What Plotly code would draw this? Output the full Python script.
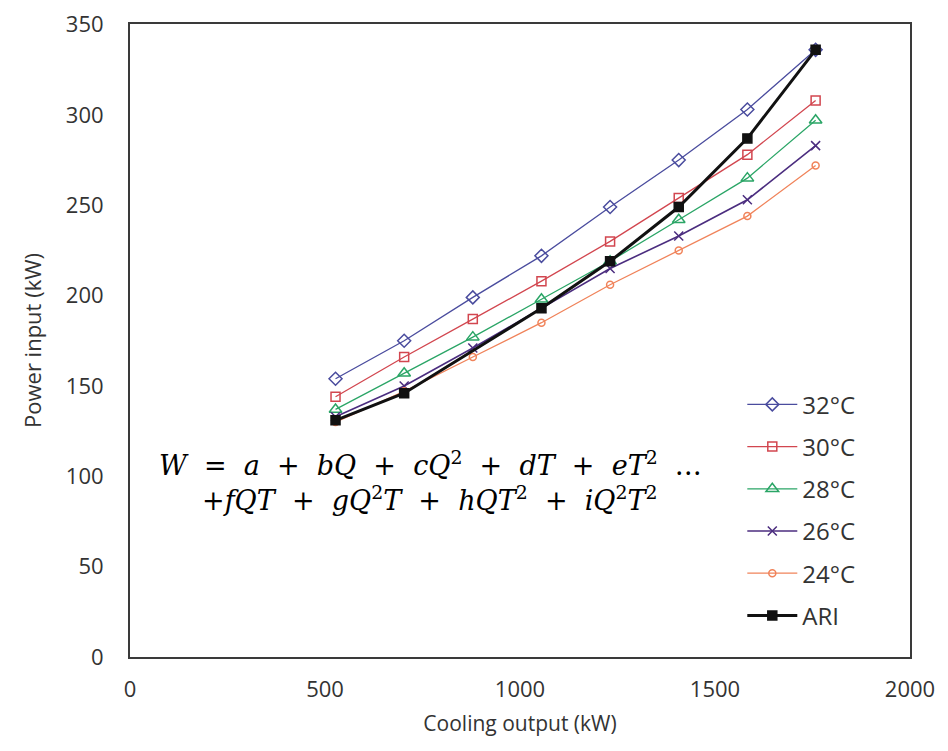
import plotly.graph_objects as go

# Cooling output (kW)
cooling_kw = [527, 703, 879, 1055, 1231, 1407, 1583, 1758]

# Power input (kW) per condenser water temperature
p32 = [154, 175, 199, 222, 249, 275, 303, 336]
p30 = [144, 166, 187, 208, 230, 254, 278, 308]
p28 = [137, 157, 177, 198, 219, 242, 265, 297]
p26 = [133, 150, 171, 193, 215, 233, 253, 283]
p24 = [130, 147, 166, 185, 206, 225, 244, 272]
pari = [131, 146, None, 193, 219, 249, 287, 336]

series_names = ["32°C", "30°C", "28°C", "26°C", "24°C", "ARI"]
x_ticks = [0, 500, 1000, 1500, 2000]
y_ticks = [0, 50, 100, 150, 200, 250, 300, 350]

series = [p32, p30, p28, p26, p24, pari]
colors = ["#4a4c9e", "#d2464f", "#2aa566", "#4b2d7f", "#f0835a", "#111111"]
symbols = ["diamond-open", "square-open", "triangle-up-open", "x-thin-open", "circle-open", "square"]
msizes = [10, 9, 11, 9, 7, 9]
lwidths = [1.3, 1.3, 1.3, 1.6, 1.3, 3]

fig = go.Figure()
for i, (name, ys) in enumerate(zip(series_names, series)):
    fig.add_trace(go.Scatter(
        x=cooling_kw, y=ys, name=name, mode="lines+markers",
        connectgaps=True, legendgroup=name,
        line=dict(color=colors[i], width=lwidths[i]),
        marker=dict(symbol=symbols[i], size=msizes[i], color=colors[i],
                    line=dict(color=colors[i], width=1.5)),
    ))

font_family = "Open Sans, Noto Sans, sans-serif"
fig.update_layout(
    width=948, height=751,
    paper_bgcolor="white", plot_bgcolor="white",
    margin=dict(l=122, r=46, t=16, b=102),
    font=dict(family=font_family, color="#333333"),
    legend=dict(x=0.785, y=0.434, xanchor="left", yanchor="top",
                font=dict(size=24, color="#333333", family=font_family),
                bgcolor="rgba(255,255,255,0)", tracegroupgap=8,
                itemwidth=50),
    showlegend=True,
)
fig.update_xaxes(range=[0, 2000], tickvals=x_ticks, ticks="", automargin=False,
                 showgrid=False, zeroline=False, showline=True, mirror=True,
                 linecolor="#3a3a3a", linewidth=2, ticklabelstandoff=12,
                 tickfont=dict(size=22),
                 title=dict(text="Cooling output (kW)", font=dict(size=21), standoff=14))
fig.update_yaxes(range=[0, 350.3], tickvals=y_ticks, ticks="", automargin=False,
                 showgrid=False, zeroline=False, showline=True, mirror=True,
                 linecolor="#3a3a3a", linewidth=2, ticklabelstandoff=20,
                 ticklabeloverflow="allow",
                 tickfont=dict(size=22),
                 title=dict(text="Power input (kW)", font=dict(size=22), standoff=18))

eq_font = dict(family="DejaVu Serif, Liberation Serif, serif", size=27, color="#000000")
sp = "&nbsp; "
line1 = ("<i>W</i>" + sp + "=" + sp + "<i>a</i>" + sp + "+" + sp + "<i>bQ</i>" + sp + "+" + sp +
         "<i>cQ</i><sup>2</sup>" + sp + "+" + sp + "<i>dT</i>" + sp + "+" + sp +
         "<i>eT</i><sup>2</sup>" + sp + "…")
line2 = ("+<i>fQT</i>" + sp + "+" + sp + "<i>gQ</i><sup>2</sup><i>T</i>" + sp + "+" + sp +
         "<i>hQT</i><sup>2</sup>" + sp + "+" + sp + "<i>iQ</i><sup>2</sup><i>T</i><sup>2</sup>")
fig.add_annotation(xref="paper", yref="paper", x=0.385, y=0.306, showarrow=False,
                   text=line1, font=eq_font, xanchor="center", yanchor="middle")
fig.add_annotation(xref="paper", yref="paper", x=0.385, y=0.251, showarrow=False,
                   text=line2, font=eq_font, xanchor="center", yanchor="middle")

fig.write_html("out.html")
